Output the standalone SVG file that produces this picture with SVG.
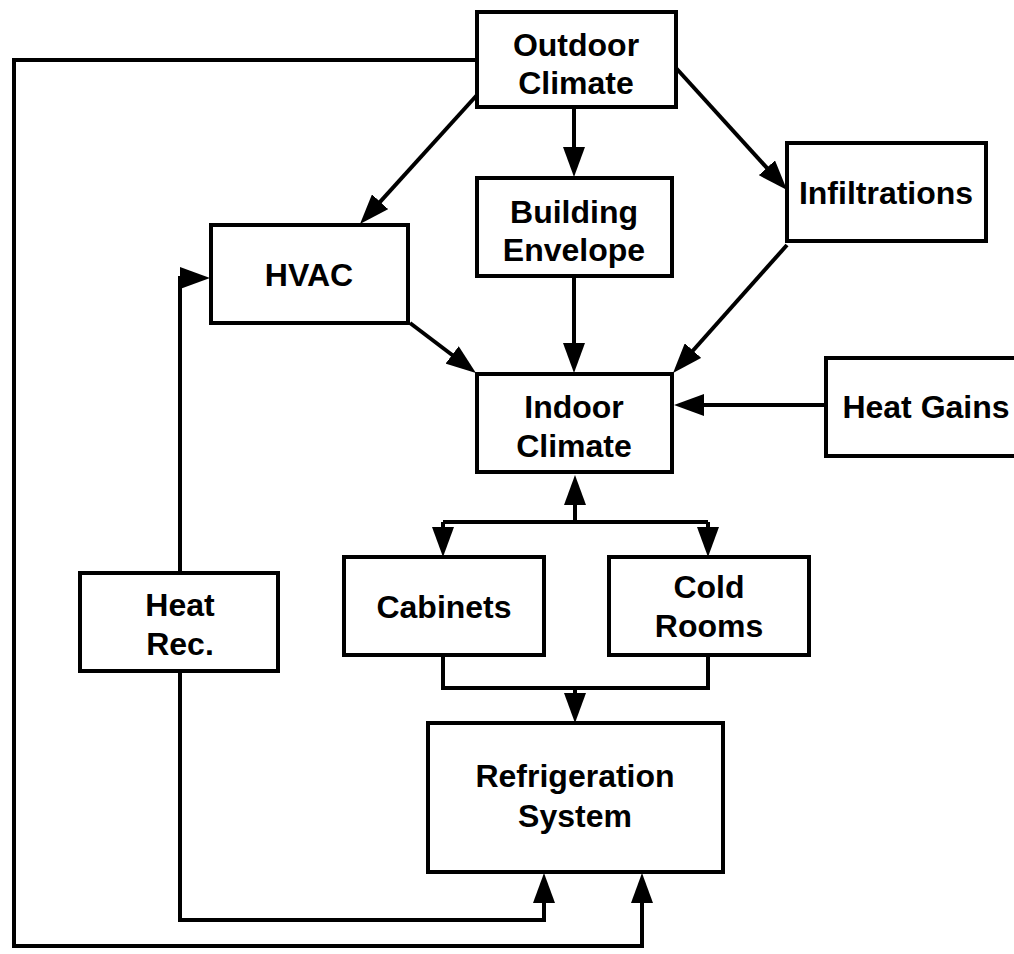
<svg xmlns="http://www.w3.org/2000/svg" width="1014" height="954" viewBox="0 0 1014 954">
<style>
.box{fill:#fff;stroke:#000;stroke-width:4;stroke-linejoin:miter}
.t{font-family:"Liberation Sans",Arial,sans-serif;font-weight:bold;font-size:32px;text-anchor:middle;fill:#000}
.c{fill:none;stroke:#000;stroke-width:4;stroke-linejoin:miter}
</style>
<defs>
<marker id="ah" viewBox="0 0 30 22" refX="20" refY="11" markerWidth="30" markerHeight="22" markerUnits="userSpaceOnUse" orient="auto">
<path d="M0,0 L30,11 L0,22 z" fill="#000"/>
</marker>
</defs>
<rect width="1014" height="954" fill="#fff"/>
<g id="connectors">
<path class="c" d="M477,60 H14 V946 H642 V883" marker-end="url(#ah)"/>
<path class="c" d="M180,573 V278 H200" marker-end="url(#ah)"/>
<path class="c" d="M180,671 V920 H544 V883" marker-end="url(#ah)"/>
<path class="c" d="M574,107 V167" marker-end="url(#ah)"/>
<path class="c" d="M477,95 L366.7,216.6" marker-end="url(#ah)"/>
<path class="c" d="M676,68 L780.3,182.6" marker-end="url(#ah)"/>
<path class="c" d="M410,323 L468,367" marker-end="url(#ah)"/>
<path class="c" d="M574,276 V363" marker-end="url(#ah)"/>
<path class="c" d="M787,245 L679.7,365.5" marker-end="url(#ah)"/>
<path class="c" d="M826,405 H684" marker-end="url(#ah)"/>
<path class="c" d="M575,522 V485" marker-end="url(#ah)"/>
<path class="c" d="M443,522 H708"/>
<path class="c" d="M443,522 V547" marker-end="url(#ah)"/>
<path class="c" d="M708,522 V547" marker-end="url(#ah)"/>
<path class="c" d="M443,655 V688 H708 V655"/>
<path class="c" d="M575,688 V713" marker-end="url(#ah)"/>
</g>
<g id="outdoor"><rect class="box" x="477" y="12" width="199" height="95"/><text class="t" x="576" y="56">Outdoor</text><text class="t" x="576" y="94">Climate</text></g>
<g id="building"><rect class="box" x="477" y="178" width="195" height="98"/><text class="t" x="574" y="223">Building</text><text class="t" x="574" y="261">Envelope</text></g>
<g id="infiltrations"><rect class="box" x="787" y="143" width="199" height="98"/><text class="t" x="886" y="204">Infiltrations</text></g>
<g id="hvac"><rect class="box" x="211" y="225" width="197" height="98"/><text class="t" x="309" y="286">HVAC</text></g>
<g id="indoor"><rect class="box" x="477" y="374" width="195" height="98"/><text class="t" x="574" y="418">Indoor</text><text class="t" x="574" y="457">Climate</text></g>
<g id="heatgains"><rect class="box" x="826" y="358" width="200" height="98"/><text class="t" x="926" y="418">Heat Gains</text></g>
<g id="cabinets"><rect class="box" x="344" y="557" width="200" height="98"/><text class="t" x="444" y="618">Cabinets</text></g>
<g id="coldrooms"><rect class="box" x="609" y="557" width="200" height="98"/><text class="t" x="709" y="598">Cold</text><text class="t" x="709" y="637">Rooms</text></g>
<g id="heatrec"><rect class="box" x="80" y="573" width="198" height="98"/><text class="t" x="180" y="616">Heat</text><text class="t" x="180" y="655">Rec.</text></g>
<g id="refrigeration"><rect class="box" x="428" y="723" width="295" height="149"/><text class="t" x="575" y="787">Refrigeration</text><text class="t" x="575" y="827">System</text></g>
</svg>
